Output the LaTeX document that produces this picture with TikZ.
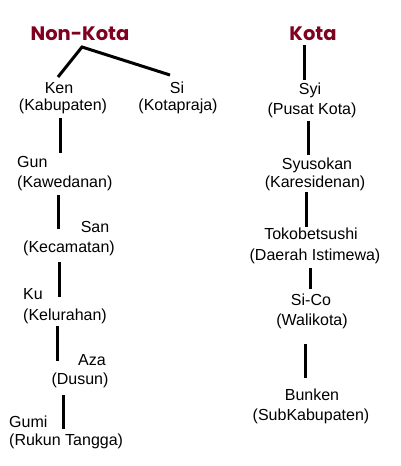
\documentclass[tikz,border=0pt]{standalone}
\usepackage{fontspec}
\setmainfont{Liberation Sans}
\newfontfamily\titlefont{Poppins}[UprightFont=* Bold]
\definecolor{titlered}{RGB}{128,0,32}
\tikzset{
  lbl/.style={inner sep=0pt, anchor=base, font=\fontsize{16}{19}\selectfont},
  lblw/.style={lbl, anchor=base west},
  ttl/.style={inner sep=0pt, anchor=base, text=titlered, font=\titlefont\fontsize{19.5}{22}\selectfont},
  conn/.style={line width=3pt, black}
}
\begin{document}
\begin{tikzpicture}[x=1pt,y=-1pt]
\useasboundingbox (0,0) rectangle (400,466);
% titles
\node[ttl] (nonkota) at (80,40) {Non-Kota};
\node[ttl] (kota) at (313,40) {Kota};
% left column
\node[lbl] (ken) at (59,93) {Ken};
\node[lbl] (kab) at (63,110) {(Kabupaten)};
\node[lbl] (si) at (177,93) {Si};
\node[lbl] (kotapraja) at (178,110) {(Kotapraja)};
\node[lblw] (gun) at (17,167) {Gun};
\node[lblw] (kaw) at (17,187) {(Kawedanan)};
\node[lbl] (san) at (95,232) {San};
\node[lbl] (kec) at (69,252) {(Kecamatan)};
\node[lblw] (ku) at (23,299) {Ku};
\node[lblw] (kel) at (23,320) {(Kelurahan)};
\node[lbl] (aza) at (92,365) {Aza};
\node[lbl] (dus) at (80,384) {(Dusun)};
\node[lblw] (gumi) at (9,427) {Gumi};
\node[lblw] (rt) at (9,445) {(Rukun Tangga)};
% right column
\node[lbl] (syi) at (310,94) {Syi};
\node[lbl] (pusat) at (312,114) {(Pusat Kota)};
\node[lbl] (syu) at (317,169) {Syusokan};
\node[lbl] (kar) at (315,187) {(Karesidenan)};
\node[lbl] (toko) at (311,239) {Tokobetsushi};
\node[lbl] (dae) at (315,260) {(Daerah Istimewa)};
\node[lbl] (sico) at (311,305) {Si-Co};
\node[lbl] (wal) at (312,325) {(Walikota)};
\node[lbl] (bun) at (312,400) {Bunken};
\node[lbl] (sub) at (311,420) {(SubKabupaten)};
% connector end points
\coordinate (apex) at (82,47);
\coordinate (kenT) at (58,77);
\coordinate (siT) at (170,75);
\coordinate (a1) at (60,118); \coordinate (a2) at (60,153);
\coordinate (b1) at (58,195); \coordinate (b2) at (58,229);
\coordinate (c1) at (59,262); \coordinate (c2) at (59,297);
\coordinate (d1) at (57,326); \coordinate (d2) at (57,361);
\coordinate (e1) at (63,395); \coordinate (e2) at (63,429);
\coordinate (r0a) at (304,45); \coordinate (r0b) at (304,80);
\coordinate (r1a) at (308,121); \coordinate (r1b) at (308,155);
\coordinate (r2a) at (306,192); \coordinate (r2b) at (306,227);
\coordinate (r3a) at (310,268); \coordinate (r3b) at (310,289);
\coordinate (r4a) at (305,344); \coordinate (r4b) at (305,378);
% connectors
\draw[conn] (kenT) -- (apex) -- (siT);
\draw[conn] (a1) -- (a2);
\draw[conn] (b1) -- (b2);
\draw[conn] (c1) -- (c2);
\draw[conn] (d1) -- (d2);
\draw[conn] (e1) -- (e2);
\draw[conn] (r0a) -- (r0b);
\draw[conn] (r1a) -- (r1b);
\draw[conn] (r2a) -- (r2b);
\draw[conn] (r3a) -- (r3b);
\draw[conn] (r4a) -- (r4b);
\end{tikzpicture}
\end{document}
